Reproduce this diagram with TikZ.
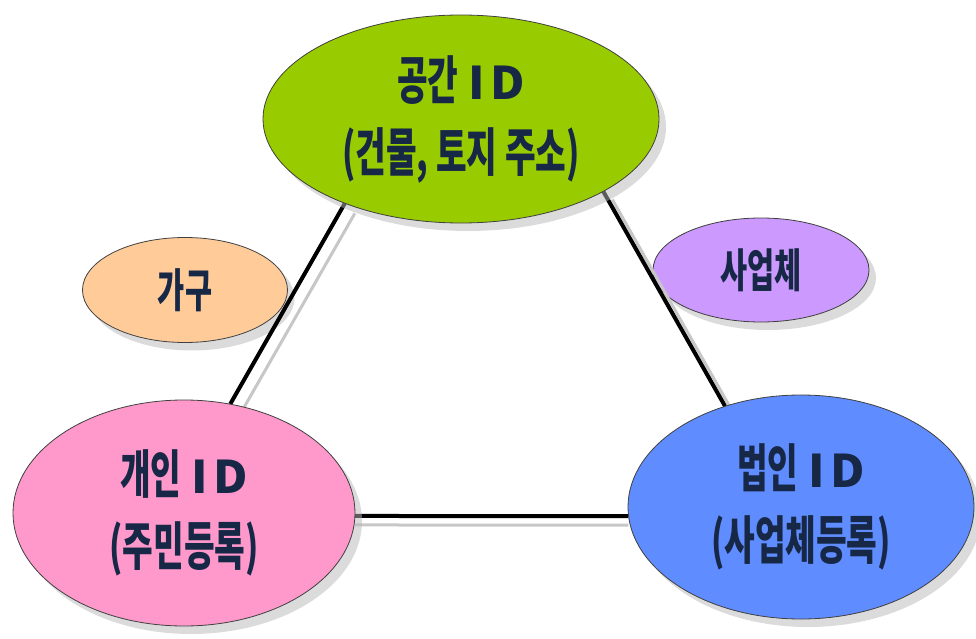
\documentclass[tikz,border=0pt]{standalone}
\usepackage{fontspec}
\usetikzlibrary{shapes.geometric,shadows}
\newfontfamily\krfont[FakeStretch=0.64]{Noto Sans CJK KR}
\newfontfamily\idfont[FakeStretch=1.05]{Noto Sans CJK KR}
\definecolor{greenc}{HTML}{99CC00}
\definecolor{pinkc}{HTML}{FF99CC}
\definecolor{bluec}{HTML}{5F8CFF}
\definecolor{orangec}{HTML}{FFCC99}
\definecolor{purplec}{HTML}{CC99FF}
\definecolor{txt}{HTML}{172846}
\tikzset{
  bub/.style={ellipse, draw=black!75, line width=0.8pt, inner sep=0pt, text=txt, align=center,
    drop shadow={shadow xshift=7pt, shadow yshift=-8pt, fill=black!28}},
  bigtext/.style={font=\krfont\bfseries\fontsize{52}{72}\selectfont},
  smalltext/.style={font=\krfont\bfseries\fontsize{46}{50}\selectfont},
  link/.style={line width=4pt, black},
  linkshadow/.style={line width=3pt, black!22},
}
\newcommand{\idtxt}{\hspace{3pt}{\idfont\bfseries\fontsize{45}{72}\selectfont I\hspace{5pt}D}}
\begin{document}
\begin{tikzpicture}[x=1pt, y=-1pt]
\useasboundingbox (0,0) rectangle (976,639);
% small ellipses
\node[bub, smalltext, fill=orangec, minimum width=205pt, minimum height=105pt] (H) at (185,290) {가구};
\node[bub, smalltext, fill=purplec, minimum width=216pt, minimum height=104pt] (B) at (761,270) {사업체};
% big ellipses placed (drawn later on top)
\path node[ellipse, minimum width=396pt, minimum height=208pt, inner sep=0pt] (T) at (461,119) {}
      node[ellipse, minimum width=342pt, minimum height=226pt, inner sep=0pt] (L) at (184,513) {}
      node[ellipse, minimum width=346pt, minimum height=224pt, inner sep=0pt] (R) at (801,507) {};
% connector shadows
\draw[linkshadow] ([shift={(10,10)}]T.216) -- ([shift={(10,10)}]L.67);
\draw[linkshadow] ([shift={(9,8)}]T.333) -- ([shift={(9,8)}]R.127);
\draw[linkshadow] ([shift={(0,9)}]L.-1) -- ([shift={(0,9)}]R.183);
% connectors
\draw[link] (T.216) -- (L.67);
\draw[link] (T.333) -- (R.127);
\draw[link] (L.-1) -- (R.183);
% big ellipses
\node[bub, bigtext, fill=greenc, minimum width=396pt, minimum height=208pt] (Tv) at (T.center) {공간 \idtxt\\(건물, 토지 주소)};
\node[bub, bigtext, fill=pinkc, minimum width=342pt, minimum height=226pt] (Lv) at (L.center) {개인 \idtxt\\(주민등록)};
\node[bub, bigtext, fill=bluec, minimum width=346pt, minimum height=224pt] (Rv) at (R.center) {법인 \idtxt\\(사업체등록)};
\end{tikzpicture}
\end{document}
